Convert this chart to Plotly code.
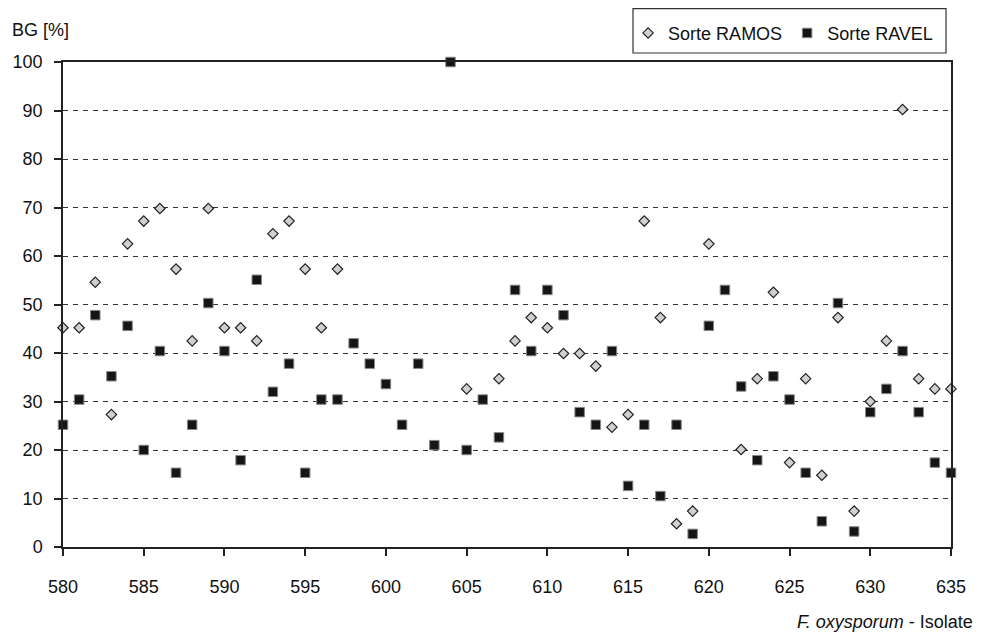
import plotly.graph_objects as go

isolates = list(range(580, 636))

ramos = [45.2, 45.2, 54.6, 27.3, 62.5, 67.2, 69.8, 57.3, 42.5, 69.8,
         45.2, 45.2, 42.5, 64.6, 67.2, 57.3, 45.2, 57.3, None, None,
         None, None, None, None, None, 32.6, None, 34.7, 42.5, 47.3,
         45.2, 39.9, 39.9, 37.3, 24.7, 27.3, 67.2, 47.3, 4.8, 7.4,
         62.5, None, 20.1, 34.7, 52.5, 17.4, 34.7, 14.8, 47.3, 7.4,
         30.0, 42.5, 90.2, 34.7, 32.6, 32.6]

ravel = [25.2, 30.4, 47.8, 35.2, 45.6, 20.0, 40.4, 15.3, 25.2, 50.3,
         40.4, 17.9, 55.1, 32.0, 37.8, 15.3, 30.4, 30.4, 42.0, 37.8,
         33.6, 25.2, 37.8, 21.0, 100.0, 20.0, 30.4, 22.6, 53.0, 40.4,
         53.0, 47.8, 27.8, 25.2, 40.4, 12.6, 25.2, 10.5, 25.2, 2.7,
         45.6, 53.0, 33.1, 17.9, 35.2, 30.4, 15.3, 5.3, 50.3, 3.2,
         27.8, 32.6, 40.4, 27.8, 17.4, 15.3]

x_ticks = list(range(580, 636, 5))
y_ticks = list(range(0, 101, 10))

FONT = "Liberation Sans, Arial, Helvetica, sans-serif"

fig = go.Figure()
fig.add_trace(go.Scatter(
    x=isolates, y=ramos, mode="markers", name="Sorte RAMOS",
    marker=dict(symbol="diamond", size=8, color="#d0d0d0",
                line=dict(color="#222222", width=1.2)),
    cliponaxis=False,
))
fig.add_trace(go.Scatter(
    x=isolates, y=ravel, mode="markers", name="Sorte RAVEL",
    marker=dict(symbol="square", size=9.5, color="#151515",
                line=dict(color="#888888", width=1)),
    cliponaxis=False,
))

fig.update_layout(
    width=975, height=631,
    margin=dict(l=55, r=32, t=54, b=92, autoexpand=False),
    paper_bgcolor="white", plot_bgcolor="white",
    font=dict(family=FONT, size=18, color="#111111"),
    showlegend=True,
    legend=dict(
        orientation="h", xref="container", yref="container",
        x=0.636, y=0.960, xanchor="left", yanchor="middle",
        borderwidth=0, bgcolor="rgba(0,0,0,0)",
        font=dict(size=18), itemsizing="trace",
        tracegroupgap=0, itemwidth=30,
    ),
    shapes=[
        dict(type="rect", xref="paper", yref="paper",
             x0=0.6419, x1=0.9944, y0=1.0186, y1=1.1100,
             line=dict(color="#333333", width=1.2), fillcolor="rgba(0,0,0,0)",
             layer="above"),
    ],
    xaxis=dict(
        range=[580, 635], tickvals=x_ticks, ticktext=[str(v) for v in x_ticks],
        showline=True, linecolor="#222222", linewidth=1.5, mirror=True,
        ticks="outside", ticklen=7, tickcolor="#222222", tickwidth=1.5,
        showgrid=False, zeroline=False, ticklabelstandoff=16,
        automargin=False,
    ),
    yaxis=dict(
        range=[0, 100], tickvals=y_ticks, ticktext=[str(v) for v in y_ticks],
        showline=True, linecolor="#222222", linewidth=1.5, mirror=True,
        ticks="outside", ticklen=7, tickcolor="#222222", tickwidth=1.5,
        showgrid=True, gridcolor="#333333", gridwidth=1, griddash="5px,5px",
        zeroline=False, ticklabelstandoff=8, automargin=False,
    ),
    annotations=[
        dict(text="BG [%]", xref="paper", yref="paper", x=-0.0597, y=1.066,
             xanchor="left", yanchor="middle", showarrow=False,
             font=dict(size=18)),
        dict(text="<i>F. oxysporum</i> - Isolate", xref="paper", yref="paper",
             x=1.027, y=-0.155, xanchor="right", yanchor="middle",
             showarrow=False, font=dict(size=18)),
    ],
)

fig.write_html("out.html")
